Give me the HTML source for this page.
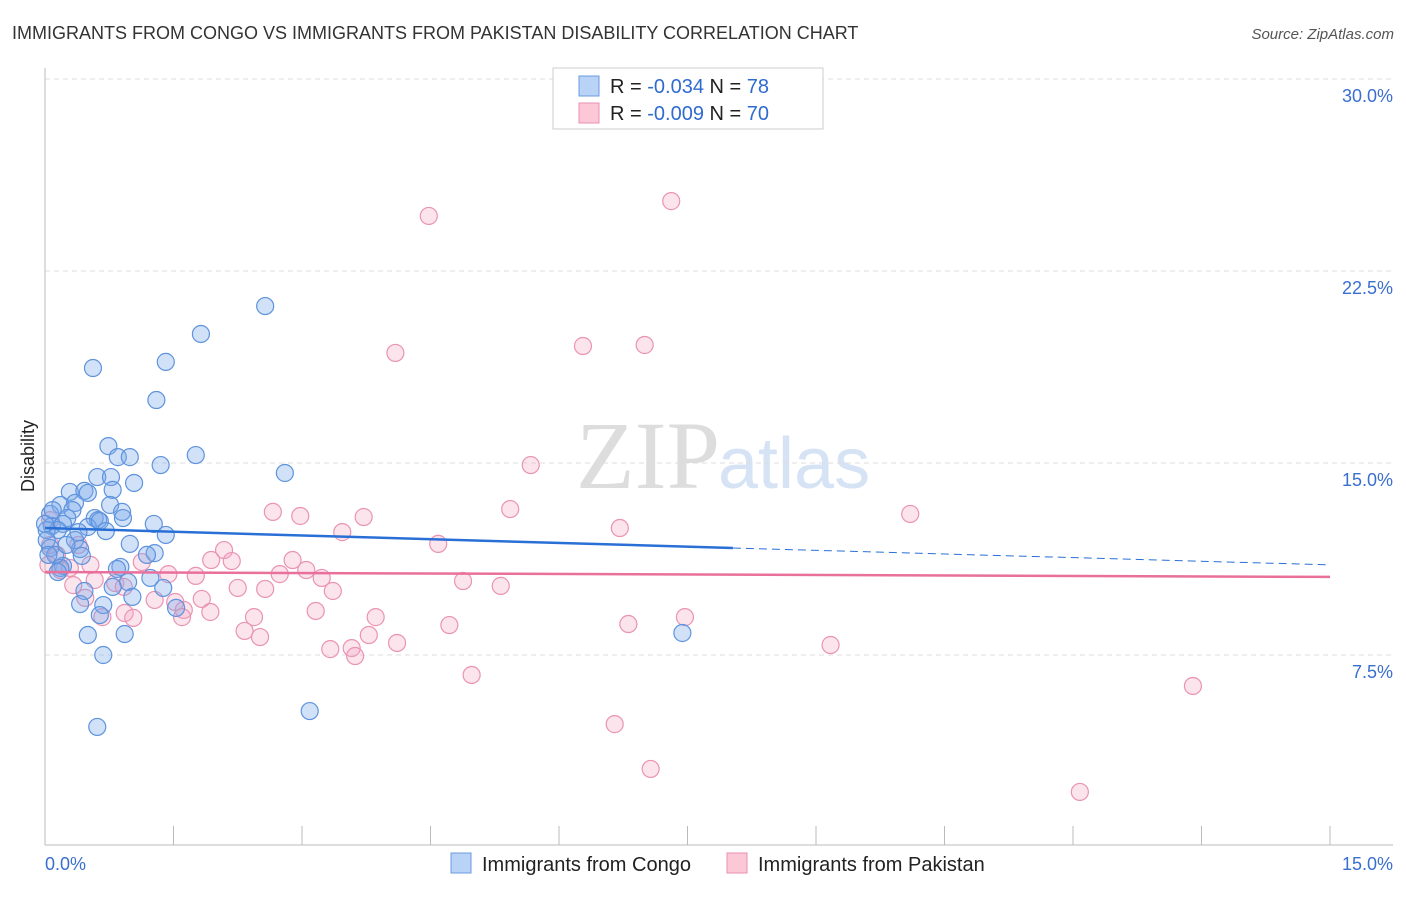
<!DOCTYPE html>
<html><head><meta charset="utf-8"><style>
body{margin:0;background:#fff;font-family:"Liberation Sans",sans-serif;}
</style></head><body>
<svg id="c" width="1406" height="892" xmlns="http://www.w3.org/2000/svg" style="font-family:'Liberation Sans',sans-serif">
<text x="12" y="39" font-size="18" fill="#333">IMMIGRANTS FROM CONGO VS IMMIGRANTS FROM PAKISTAN DISABILITY CORRELATION CHART</text>
<text x="1394" y="39" font-size="15" fill="#555" font-style="italic" text-anchor="end">Source: ZipAtlas.com</text>
<text x="720" y="488" font-size="96" fill="#ddd" text-anchor="end" font-family="Liberation Serif,serif">ZIP</text>
<text x="718" y="488" font-size="72" fill="#d6e3f5">atlas</text>
<text transform="translate(34,456) rotate(-90)" font-size="18" fill="#222" text-anchor="middle">Disability</text>
<g id="grid"></g><g id="pts"></g><g id="trend"></g>
<g>
<rect x="553" y="68" width="270" height="61" fill="#fff" stroke="#ccc"/>
<rect x="579" y="76" width="20" height="20" fill="#b8d3f5" stroke="#6a9be0"/>
<text x="610" y="93" font-size="20" fill="#222">R = <tspan fill="#2f6bd0">-0.034</tspan>   N = <tspan fill="#2f6bd0">78</tspan></text>
<rect x="579" y="103" width="20" height="20" fill="#fcc8d8" stroke="#e891b0"/>
<text x="610" y="120" font-size="20" fill="#222">R = <tspan fill="#2f6bd0">-0.009</tspan>   N = <tspan fill="#2f6bd0">70</tspan></text>
</g>
<g>
<rect x="451" y="853" width="20" height="20" fill="#b8d3f5" stroke="#6a9be0"/>
<text x="482" y="871" font-size="20" fill="#222">Immigrants from Congo</text>
<rect x="727" y="853" width="20" height="20" fill="#fcc8d8" stroke="#e891b0"/>
<text x="758" y="871" font-size="20" fill="#222">Immigrants from Pakistan</text>
</g>
</svg>
<script>
const yTicks=[7.5,15,22.5,30];
const yTickLabels=["7.5%","15.0%","22.5%","30.0%"];
const xTicks=[0,1.5,3,4.5,6,7.5,9,10.5,12,13.5,15];
const xTickLabels=["0.0%","15.0%"];
const congoX=[2.57,1.82,0.56,1.41,1.30,0.74,1.76,0.85,0.99,1.35,2.80,0.61,0.77,1.04,0.29,0.46,0.50,0.79,0.18,0.35,0.32,0.76,0.90,0.06,0.26,0.58,0.62,0.91,1.27,0.08,0.21,0.50,0.64,0.71,0.15,0.39,1.41,0.02,0.06,0.35,0.99,0.41,1.28,1.19,0.43,0.88,0.21,0.18,0.84,0.97,1.38,0.46,1.02,0.68,0.41,1.53,0.64,0.50,0.93,7.44,0.68,3.09,0.61,0.00,0.02,0.12,0.25,0.15,0.79,1.23,0.04,0.09];
const congoY=[21.13,20.04,18.71,18.95,17.46,15.66,15.31,15.23,15.23,14.92,14.61,14.45,14.45,14.22,13.87,13.91,13.83,13.95,13.36,13.44,13.16,13.36,13.09,13.01,12.85,12.85,12.77,12.85,12.62,12.54,12.62,12.50,12.73,12.34,12.38,12.30,12.19,12.38,11.68,11.99,11.84,11.64,11.48,11.41,11.37,10.94,10.98,10.90,10.86,10.35,10.12,10.00,9.77,9.45,9.49,9.34,9.06,8.28,8.32,8.36,7.50,5.31,4.69,12.62,11.99,11.41,11.80,10.74,10.16,10.51,11.41,13.16];
const pakX=[4.48,7.31,4.09,6.28,7.00,5.67,10.10,5.43,2.66,2.98,3.72,6.71,3.47,4.59,2.09,1.94,2.89,2.18,1.13,1.44,2.74,3.05,3.23,1.76,4.88,5.32,3.36,2.57,2.25,0.82,0.92,0.58,0.33,0.18,0.29,0.06,0.14,1.28,1.52,1.83,1.62,1.93,1.60,0.93,0.67,1.03,3.16,3.86,2.44,7.47,4.72,6.81,2.33,2.51,3.78,4.11,3.33,3.58,3.62,9.17,4.98,13.40,6.65,7.07,12.08,0.06,0.53,0.39,0.47,0.04];
const pakY=[24.65,25.23,19.30,19.57,19.61,14.92,13.01,13.20,13.09,12.93,12.89,12.46,12.30,11.84,11.60,11.21,11.21,11.17,11.13,10.66,10.66,10.82,10.51,10.59,10.39,10.20,10.00,10.08,10.12,10.31,10.16,10.43,10.23,10.82,10.90,11.80,11.41,9.65,9.57,9.69,9.26,9.18,8.98,9.14,8.98,8.95,9.22,8.98,8.98,8.98,8.67,8.71,8.44,8.20,8.28,7.97,7.73,7.77,7.46,7.89,6.72,6.29,4.80,3.05,2.15,12.77,11.02,11.80,9.73,11.02];
const congoTrend=[12.46,11.68,11.02]; const congoTrendX=[0,8.03,15];
const pakTrend=[10.74,10.55];
const NS="http://www.w3.org/2000/svg";
const X=v=>45+v/15*1285, Y=v=>847-v/7.5*192;
function mk(t,a,p){const e=document.createElementNS(NS,t);for(const k in a)e.setAttribute(k,a[k]);p.appendChild(e);return e;}
const g=document.getElementById('grid');
yTicks.forEach((t,i)=>{
 const l=mk('line',{x1:45,x2:1393,y1:Y(t),y2:Y(t),stroke:'#ddd','stroke-dasharray':'5,4'},g);
 
 
 const tx=mk('text',{x:1393,y:Y(t)+23,'font-size':18,fill:'#3a6fd0','text-anchor':'end'},g);tx.textContent=yTickLabels[i];
 
 
});
mk('line',{x1:45,x2:45,y1:68,y2:845,stroke:'#bbb'},g);
const ax=mk('line',{x1:45,x2:1393,y1:845,y2:845,stroke:'#bbb'},g);


xTicks.forEach(t=>{const l=mk('line',{x1:X(t),x2:X(t),y1:826,y2:845,stroke:'#bbb'},g);
 
 });
[[0,'start',45],[1,'end',1393]].forEach(([i,a,x])=>{const tx=mk('text',{x:x,y:870,'font-size':18,fill:'#3a6fd0','text-anchor':a},g);tx.textContent=xTickLabels[i];
 
 });
const p=document.getElementById('pts');
pakX.forEach((x,i)=>{const c=mk('circle',{cx:X(x),cy:Y(pakY[i]),r:8.5,fill:'rgba(245,165,195,0.3)',stroke:'#ea93b3','stroke-width':1.2},p);
 
 });
congoX.forEach((x,i)=>{const c=mk('circle',{cx:X(x),cy:Y(congoY[i]),r:8.5,fill:'rgba(120,170,235,0.35)',stroke:'#5f93dd','stroke-width':1.2},p);
 
 });
const tr=document.getElementById('trend');
let l1=mk('line',{x1:X(congoTrendX[0]),y1:Y(congoTrend[0]),x2:X(congoTrendX[1]),y2:Y(congoTrend[1]),stroke:'#2a6fd6','stroke-width':2.5},tr);


let l2=mk('line',{x1:X(congoTrendX[1]),y1:Y(congoTrend[1]),x2:X(congoTrendX[2]),y2:Y(congoTrend[2]),stroke:'#2a6fd6','stroke-width':1,'stroke-dasharray':'8,5'},tr);


let l3=mk('line',{x1:X(0),y1:Y(pakTrend[0]),x2:X(15),y2:Y(pakTrend[1]),stroke:'#e8709a','stroke-width':2.5},tr);


</script>
</body></html>
